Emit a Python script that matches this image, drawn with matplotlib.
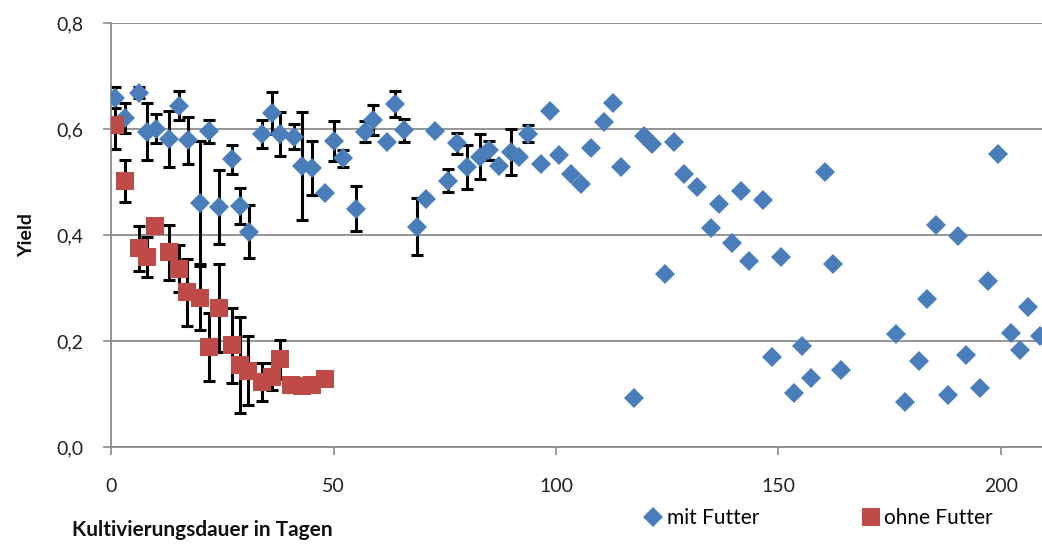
import numpy as np
import matplotlib
matplotlib.use('Agg')
import matplotlib.pyplot as plt

plt.rcParams['font.family'] = ['Lato', 'DejaVu Sans']

# mit Futter (blue diamonds), error 0 = no error bar
days_mit = [0.9, 3.1, 6.1, 8.0, 10.1, 12.9, 15.1, 17.2, 20.0, 21.9, 24.1, 27.1,
            29.0, 30.9, 33.9, 36.0, 38.0, 41.0, 42.9, 45.0, 48.1, 50.0, 52.0,
            55.1, 57.0, 58.9, 61.9, 63.7, 65.8, 68.8, 70.8, 72.7, 75.7, 77.8,
            80.0, 82.9, 85.0, 87.1, 89.8, 91.6, 93.7, 96.5, 98.6, 100.7, 103.4,
            105.5, 107.8, 110.8, 112.8, 114.7, 117.5, 119.8, 121.6, 124.6,
            126.5, 128.8, 131.8, 134.8, 136.6, 139.6, 141.5, 143.5, 146.5,
            148.6, 150.5, 153.5, 155.4, 157.4, 160.4, 162.3, 164.2, 176.4,
            178.5, 181.6, 183.5, 185.4, 188.1, 190.3, 192.3, 195.3, 197.1,
            199.4, 202.4, 204.3, 206.2, 208.8]
yield_mit = [0.659, 0.621, 0.669, 0.595, 0.601, 0.581, 0.644, 0.579, 0.461,
             0.596, 0.453, 0.543, 0.455, 0.406, 0.591, 0.630, 0.591, 0.586,
             0.530, 0.526, 0.480, 0.578, 0.545, 0.450, 0.595, 0.617, 0.576,
             0.647, 0.598, 0.416, 0.469, 0.597, 0.503, 0.573, 0.529, 0.548,
             0.560, 0.530, 0.557, 0.547, 0.591, 0.534, 0.635, 0.551, 0.516,
             0.496, 0.564, 0.614, 0.650, 0.528, 0.092, 0.587, 0.572, 0.326,
             0.575, 0.515, 0.490, 0.414, 0.458, 0.386, 0.484, 0.352, 0.467,
             0.170, 0.358, 0.103, 0.191, 0.131, 0.519, 0.345, 0.145, 0.213,
             0.085, 0.163, 0.279, 0.419, 0.099, 0.399, 0.174, 0.111, 0.313,
             0.554, 0.216, 0.184, 0.265, 0.209]
err_mit = [0.02, 0.028, 0.01, 0.054, 0.027, 0.053, 0.027, 0.044, 0.116, 0.022,
           0.069, 0.027, 0.034, 0.05, 0.026, 0.04, 0.042, 0.024, 0.102, 0.051,
           0, 0.038, 0.016, 0.042, 0.02, 0.029, 0, 0.025, 0.022, 0.054, 0, 0,
           0.021, 0.02, 0.042, 0.043, 0.018, 0, 0.043, 0, 0.016]
err_mit = err_mit + [0] * (len(days_mit) - len(err_mit))

# ohne Futter (red squares)
days_ohne = [0.9, 3.1, 6.1, 8.0, 9.7, 12.9, 15.1, 16.9, 19.8, 21.9, 24.1,
             27.1, 29.0, 30.8, 33.9, 36.0, 37.9, 40.3, 42.9, 45.1, 48.1]
yield_ohne = [0.608, 0.502, 0.375, 0.359, 0.418, 0.368, 0.337, 0.292, 0.281,
              0.189, 0.262, 0.192, 0.155, 0.144, 0.123, 0.133, 0.166, 0.117,
              0.116, 0.118, 0.128]
err_ohne = [0.046, 0.04, 0.042, 0.038, 0.01, 0.052, 0.045, 0.063, 0.06, 0.065,
            0.083, 0.07, 0.09, 0.065, 0.035, 0.025, 0.037, 0, 0, 0.01, 0]

y_ticks = [0.0, 0.2, 0.4, 0.6, 0.8]
x_ticks = [0, 50, 100, 150, 200]

blue = '#4A7EBB'
red = '#BE4B48'
grey = '#8C8C8C'

fig = plt.figure(figsize=(10.42, 5.44), dpi=100)
ax = fig.add_axes([0.107, 0.178, 0.893, 0.7795])


def draw_errors(x, y, e):
    x, y, e = np.array(x), np.array(y), np.array(e)
    m = e > 0
    ax.errorbar(x[m], y[m], yerr=e[m], fmt='none', ecolor='black',
                elinewidth=2.2, capsize=4.5, capthick=2.2, zorder=2)


draw_errors(days_mit, yield_mit, err_mit)
draw_errors(days_ohne, yield_ohne, err_ohne)

ax.plot(days_mit, yield_mit, linestyle='none', marker='D', markersize=10.5,
        color=blue, markeredgewidth=0, label='mit Futter', zorder=3)
ax.plot(days_ohne, yield_ohne, linestyle='none', marker='s', markersize=13.5,
        color=red, markeredgewidth=0, label='ohne Futter', zorder=4)

ax.set_xlim(0, 209.3)
ax.set_ylim(0, 0.8)
ax.set_xticks(x_ticks)
ax.set_yticks(y_ticks)
ax.set_yticklabels([f'{v:.1f}'.replace('.', ',') for v in y_ticks])
ax.tick_params(axis='both', labelsize=14, colors=grey, labelcolor='#222222',
               length=6, width=1.2, direction='out')
ax.tick_params(axis='x', pad=16)
ax.tick_params(axis='y', pad=14)
ax.grid(axis='y', color=grey, linewidth=1.3)
ax.set_axisbelow(True)
for side in ['top', 'right']:
    ax.spines[side].set_visible(False)
for side in ['left', 'bottom']:
    ax.spines[side].set_color(grey)
    ax.spines[side].set_linewidth(1.3)

fig.text(0.026, 0.568, 'Yield', rotation=90, ha='center', va='center',
         fontsize=14, fontweight='bold', color='#111111')
fig.text(0.069, 0.025, 'Kultivierungsdauer in Tagen', ha='left', va='center',
         fontsize=15, fontweight='bold', color='#111111')

fig.legend(loc='center left', bbox_to_anchor=(0.612, 0.048), ncol=2,
           frameon=False, fontsize=15, handlelength=0.7, handletextpad=0.3,
           columnspacing=5.0, borderaxespad=0)

fig.savefig('out.png', dpi=100)
